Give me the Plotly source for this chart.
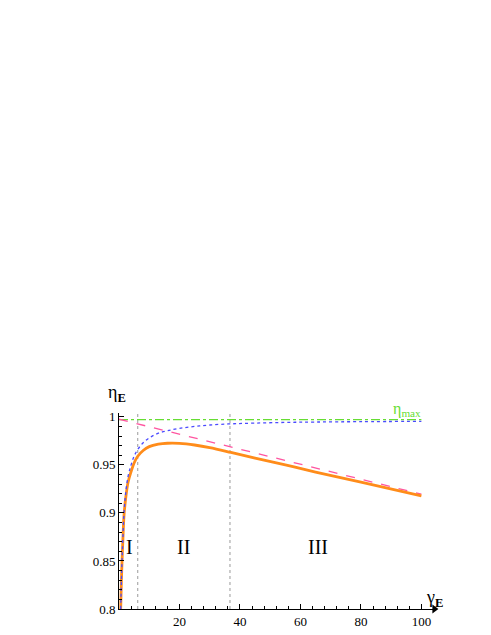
import plotly.graph_objects as go

# valores
gama = [0.56, 0.8, 1.0, 1.3, 1.65, 2.2, 3.0, 4.0, 5.0, 6.2, 8, 10, 13, 16, 20, 25, 30, 37, 45, 55, 65, 80, 100]
eta_azul = [0.80, 0.83, 0.85, 0.875, 0.90, 0.92, 0.938, 0.950, 0.959, 0.966, 0.973, 0.978, 0.983, 0.9855,
            0.988, 0.990, 0.9915, 0.9927, 0.9935, 0.9942, 0.9946, 0.9950, 0.9953]
eta_laranja = [0.80, 0.83, 0.849, 0.873, 0.897, 0.915, 0.932, 0.943, 0.952, 0.959, 0.965, 0.969, 0.9715, 0.9725,
               0.9724, 0.9707, 0.9680, 0.9630, 0.9570, 0.9500, 0.9425, 0.932, 0.9177]
gama_rosa = [0, 100]
eta_rosa = [0.9975, 0.9195]
gama_max = [0, 100]
eta_max = [0.9972, 0.9972]
limites = [6.2, 36.7]
regioes = ['I', 'II', 'III']
regioes_x = [3.6, 21.3, 65.9]
regioes_y = 0.865
xticks = [20, 40, 60, 80, 100]
yticks = [0.8, 0.85, 0.9, 0.95, 1]
yticks_txt = ['0.8', '0.85', '0.9', '0.95', '1']

fonte = 'Liberation Serif'

fig = go.Figure()

for g in limites:
    fig.add_trace(go.Scatter(x=[g, g], y=[0.8, 1.004], mode='lines',
                             line=dict(color='#9a9a9a', width=1, dash='dot'), showlegend=False))

fig.add_trace(go.Scatter(x=gama_max, y=eta_max, mode='lines',
                         line=dict(color='#66dd33', width=1.2, dash='dashdot'), showlegend=False))
fig.add_trace(go.Scatter(x=gama_rosa, y=eta_rosa, mode='lines',
                         line=dict(color='#ff55a0', width=1.3, dash='dash'), showlegend=False))
fig.add_trace(go.Scatter(x=gama, y=eta_laranja, mode='lines', line_shape='spline',
                         line=dict(color='#ff8c1a', width=2.8), showlegend=False))
fig.add_trace(go.Scatter(x=gama, y=eta_azul, mode='lines', line_shape='spline',
                         line=dict(color='#4a4aff', width=1.3, dash='dot'), showlegend=False))

# seta do eixo x
fig.add_trace(go.Scatter(x=[104.3], y=[0.8], mode='markers', cliponaxis=False,
                         marker=dict(symbol='triangle-right', size=8, color='black'), showlegend=False))

for txt, xx in zip(regioes, regioes_x):
    fig.add_annotation(x=xx, y=regioes_y, text=txt, showarrow=False,
                       font=dict(family=fonte, size=20, color='black'))

fig.add_annotation(xref='paper', yref='paper', x=-0.005, y=1.097, xanchor='center', yanchor='middle',
                   text='η<sub><b>E</b></sub>', showarrow=False,
                   font=dict(family=fonte, size=18, color='black'))
fig.add_annotation(xref='paper', yref='paper', x=0.997, y=0.056, xanchor='center', yanchor='middle',
                   text='γ<sub><b>E</b></sub>', showarrow=False,
                   font=dict(family=fonte, size=18, color='black'))
fig.add_annotation(xref='paper', yref='paper', x=0.91, y=1.02, xanchor='center', yanchor='middle',
                   text='η<sub>max</sub>', showarrow=False,
                   font=dict(family=fonte, size=16, color='#66dd33'))

fig.update_xaxes(range=[0, 104.5], showgrid=False, zeroline=False, showline=True, linecolor='black',
                 linewidth=1, ticks='inside', ticklen=5, tickcolor='black', tickvals=xticks,
                 minor=dict(dtick=4, ticks='inside', ticklen=3, tickcolor='black'), automargin=False,
                 tickfont=dict(family=fonte, size=13, color='black'))
fig.update_yaxes(range=[0.8, 1.004], showgrid=False, zeroline=False, showline=True, linecolor='black',
                 linewidth=1, ticks='inside', ticklen=5, tickcolor='black', tickvals=yticks,
                 ticktext=yticks_txt, automargin=False,
                 minor=dict(dtick=0.01, ticks='inside', ticklen=3, tickcolor='black'),
                 tickfont=dict(family=fonte, size=13, color='black'))

fig.update_layout(width=491, height=635, autosize=False, plot_bgcolor='white', paper_bgcolor='white',
                  margin=dict(l=119, r=56, t=413, b=26), showlegend=False)

# sem a margem padrão do body, para o gráfico ocupar a janela toda
fig.write_html("out.html", config={'displayModeBar': False},
               post_script="document.body.style.margin='0';")
